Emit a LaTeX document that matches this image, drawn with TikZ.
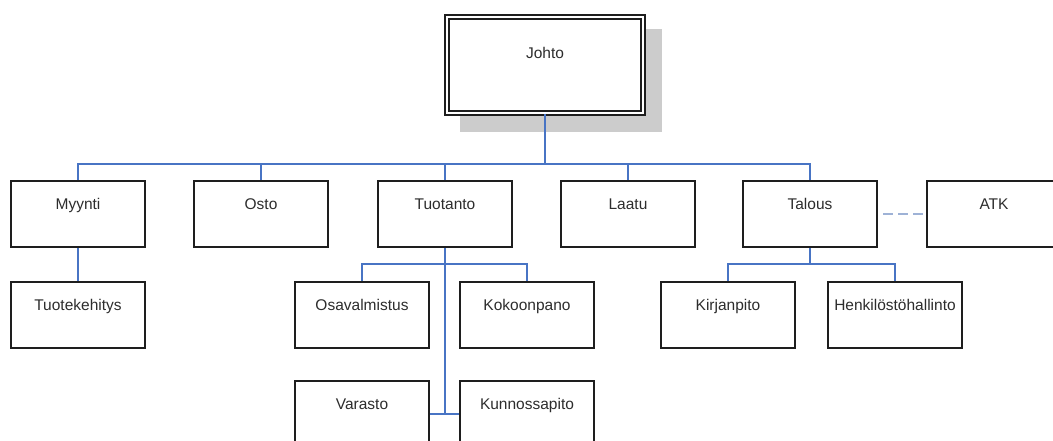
\documentclass[tikz,border=0pt]{standalone}
\usepackage{fontspec}
\setmainfont{Liberation Sans}
\definecolor{linkblue}{RGB}{72,116,196}
\definecolor{dashblue}{RGB}{158,178,214}
\definecolor{boxline}{RGB}{30,30,30}
\definecolor{txt}{RGB}{45,45,45}
\begin{document}
\begin{tikzpicture}[x=1pt,y=-1pt,
  unit/.style={draw=boxline, line width=1.6pt, fill=white, rectangle,
    minimum width=134pt, inner xsep=0pt, inner ysep=0pt,
    text height=28pt, text depth=38pt, text=txt,
    font=\fontsize{15.5}{18}\selectfont},
  head/.style={draw=boxline, line width=2pt, double=white, double distance=2pt,
    fill=white, rectangle, minimum width=196pt, inner xsep=0pt, inner ysep=0pt,
    text height=42pt, text depth=54pt, text=txt,
    font=\fontsize{15.5}{18}\selectfont},
  link/.style={draw=linkblue, line width=1.5pt},
  aux/.style={draw=dashblue, line width=2.4pt, dash pattern=on 9.5pt off 5.5pt, dash phase=9.5pt}]
\clip (0,0) rectangle (1053,441);
\fill[white] (0,0) rectangle (1053,441);

% shadow behind the top box
\fill[black!20] (460,29) rectangle (662,132);
\node[head] (johto) at (545,65) {Johto};

% department row
\node[unit] (myynti)   at (78,214)  {Myynti};
\node[unit] (osto)     at (261,214) {Osto};
\node[unit] (tuotanto) at (445,214) {Tuotanto};
\node[unit] (laatu)    at (628,214) {Laatu};
\node[unit] (talous)   at (810,214) {Talous};
\node[unit] (atk)      at (994,214) {ATK};

% second row
\node[unit] (tuotekehitys) at (78,315)  {Tuotekehitys};
\node[unit] (osaval)       at (362,315) {Osavalmistus};
\node[unit] (kokoonpano)   at (527,315) {Kokoonpano};
\node[unit] (kirjanpito)   at (728,315) {Kirjanpito};
\node[unit] (henkilo)      at (895,315) {Henkilöstöhallinto};

% third row
\node[unit] (varasto)      at (362,414) {Varasto};
\node[unit] (kunnossa)     at (527,414) {Kunnossapito};

% bus lines
\coordinate (bus)  at (545,164);
\coordinate (tbus) at (445,264);
\coordinate (fbus) at (810,264);

\draw[link] (johto.south) -- (bus);
\draw[link] (myynti.north) |- (bus) -| (talous.north);
\draw[link] (osto.north) -- (osto.north |- bus);
\draw[link] (tuotanto.north) -- (tuotanto.north |- bus);
\draw[link] (laatu.north) -- (laatu.north |- bus);

\draw[link] (myynti.south) -- (tuotekehitys.north);

\draw[link] (tuotanto.south) -- (tuotanto.south |- varasto.east);
\draw[link] (osaval.north) |- (tbus) -| (kokoonpano.north);
\draw[link] (varasto.east) -- (kunnossa.west);

\draw[link] (talous.south) -- (fbus);
\draw[link] (kirjanpito.north) |- (fbus) -| (henkilo.north);

\draw[aux] (talous.east) -- (atk.west);
\end{tikzpicture}
\end{document}
